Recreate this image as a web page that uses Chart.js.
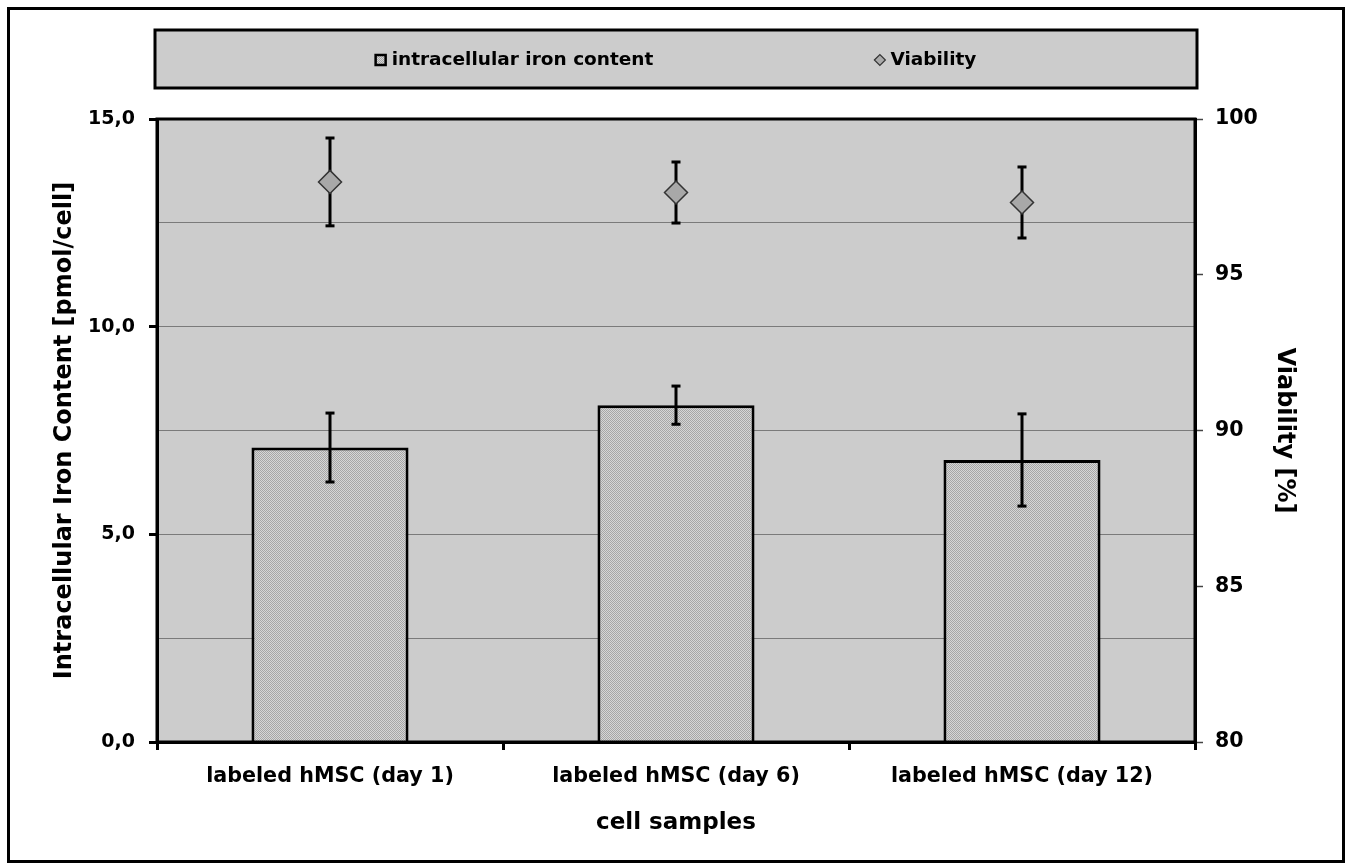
<!DOCTYPE html>
<html>
<head>
<meta charset="utf-8">
<script src="https://cdn.jsdelivr.net/npm/chart.js@4.4.1/dist/chart.umd.min.js"></script>
<style>
  html, body { margin: 0; padding: 0; background: #fff; }
  #wrap { width: 1350px; height: 865px; }
</style>
</head>
<body>
<div id="wrap"><canvas id="chart" width="1350" height="865"></canvas></div>
<script>
// data
const categories = ['labeled hMSC (day 1)', 'labeled hMSC (day 6)', 'labeled hMSC (day 12)'];
const ironContent = [7.09, 8.11, 6.79];
const ironError = [0.83, 0.46, 1.11];
const viability = [97.98, 97.64, 97.32];
const viabilityError = [1.41, 0.98, 1.14];

const FONT = 'DejaVu Sans, Verdana, sans-serif';

// dotted grey fill like the original bars
function makePattern(){
  const c = document.createElement('canvas');
  c.width = 2; c.height = 2;
  const g = c.getContext('2d');
  g.fillStyle = '#d6d6d6'; g.fillRect(0, 0, 2, 2);
  g.fillStyle = '#a6a6a6'; g.fillRect(0, 0, 1, 1); g.fillRect(1, 1, 1, 1);
  return g.createPattern(c, 'repeat');
}
const barFill = makePattern();

// frame, plot background, plot border
const framePlugin = {
  id: 'frame',
  beforeDraw(chart){
    const {ctx, chartArea: a} = chart;
    ctx.save();
    ctx.fillStyle = '#fff';
    ctx.fillRect(0, 0, chart.width, chart.height);
    ctx.fillStyle = '#cccccc';
    ctx.fillRect(a.left, a.top, a.right - a.left, a.bottom - a.top);
    ctx.strokeStyle = '#000';
    ctx.lineWidth = 3;
    ctx.strokeRect(8.5, 8.5, 1335, 853);
    ctx.restore();
  },
  afterDraw(chart){
    const {ctx, chartArea: a} = chart;
    ctx.save();
    ctx.strokeStyle = '#000';
    ctx.lineWidth = 3;
    ctx.strokeRect(a.left, a.top, a.right - a.left, a.bottom - a.top);
    ctx.restore();
  }
};

// error bars, drawn right after the bars so the diamonds sit on top
function drawErr(ctx, x, yTop, yBot){
  ctx.beginPath();
  ctx.moveTo(x, yTop); ctx.lineTo(x, yBot);
  ctx.stroke();
  ctx.fillRect(x - 4.5, yTop - 1.5, 9, 3);
  ctx.fillRect(x - 4.5, yBot - 1.5, 9, 3);
}
const errorPlugin = {
  id: 'errs',
  afterDatasetDraw(chart, args){
    if (args.index !== 0) return;
    const ctx = chart.ctx;
    const y = chart.scales.y, y1 = chart.scales.y1;
    const barMeta = chart.getDatasetMeta(0), ptMeta = chart.getDatasetMeta(1);
    ctx.save();
    ctx.strokeStyle = '#000';
    ctx.fillStyle = '#000';
    ctx.lineWidth = 3;
    ironContent.forEach((v, i) => {
      const x = barMeta.data[i].x;
      drawErr(ctx, x, y.getPixelForValue(v + ironError[i]), y.getPixelForValue(v - ironError[i]));
    });
    viability.forEach((v, i) => {
      const x = ptMeta.data[i].x;
      drawErr(ctx, x, y1.getPixelForValue(v + viabilityError[i]), y1.getPixelForValue(v - viabilityError[i]));
    });
    ctx.restore();
  }
};

// boxed legend above the plot
const legendBox = {
  id: 'legendBox',
  afterDraw(chart){
    const {ctx, chartArea: a} = chart;
    const ds = chart.data.datasets;
    const top = 30, bottom = 88, mid = (top + bottom) / 2 + 1;
    ctx.save();
    ctx.fillStyle = '#cccccc';
    ctx.fillRect(a.left - 2, top, a.right - a.left + 4, bottom - top);
    ctx.strokeStyle = '#000';
    ctx.lineWidth = 3;
    ctx.strokeRect(a.left - 2, top, a.right - a.left + 4, bottom - top);

    ctx.font = 'bold 18.5px ' + FONT;
    ctx.textBaseline = 'middle';
    const gap = 221, mark = 16;
    const w0 = ctx.measureText(ds[0].label).width, w1 = ctx.measureText(ds[1].label).width;
    const total = mark + w0 + gap + mark + w1;
    let x = (a.left + a.right) / 2 - total / 2;

    ctx.fillStyle = barFill;
    ctx.fillRect(x, mid - 5, 10, 10);
    ctx.lineWidth = 2.5;
    ctx.strokeRect(x, mid - 5, 10, 10);
    ctx.fillStyle = '#000';
    ctx.fillText(ds[0].label, x + mark, mid);
    x += mark + w0 + gap;

    ctx.beginPath();
    ctx.moveTo(x, mid); ctx.lineTo(x + 5.5, mid - 5.5); ctx.lineTo(x + 11, mid); ctx.lineTo(x + 5.5, mid + 5.5);
    ctx.closePath();
    ctx.fillStyle = '#aaaaaa'; ctx.fill();
    ctx.strokeStyle = '#333'; ctx.lineWidth = 1.2; ctx.stroke();
    ctx.fillStyle = '#000';
    ctx.fillText(ds[1].label, x + mark, mid);
    ctx.restore();
  }
};

const yTickFont = { family: FONT, size: 19, weight: 'bold' };
const y1TickFont = { family: FONT, size: 20.5, weight: 'bold' };
const xTickFont = { family: FONT, size: 20.7, weight: 'bold' };
const titleFont = { family: FONT, size: 24, weight: 'bold' };

new Chart(document.getElementById('chart'), {
  type: 'bar',
  data: {
    labels: categories,
    datasets: [
      {
        label: 'intracellular iron content',
        data: ironContent,
        yAxisID: 'y',
        backgroundColor: barFill,
        borderColor: '#000',
        borderWidth: 3,
        categoryPercentage: 1,
        barPercentage: 0.454,
        order: 2
      },
      {
        type: 'line',
        label: 'Viability',
        data: viability,
        yAxisID: 'y1',
        showLine: false,
        pointStyle: 'rectRot',
        pointRadius: 11.5,
        pointBackgroundColor: '#a8a8a8',
        pointBorderColor: '#333',
        pointBorderWidth: 1.5,
        order: 1
      }
    ]
  },
  options: {
    responsive: false,
    animation: false,
    layout: { padding: { top: 119, bottom: 0, left: 0, right: 0 } },
    plugins: { legend: { display: false }, tooltip: { enabled: false } },
    scales: {
      x: {
        grid: { drawOnChartArea: false, color: '#000', lineWidth: 3, tickLength: 8, offset: true },
        border: { color: '#000', width: 3 },
        ticks: { color: '#000', font: xTickFont, padding: 14, maxRotation: 0 },
        title: { display: true, text: 'cell samples', color: '#000', font: { family: FONT, size: 23, weight: 'bold' }, padding: { bottom: 28 } },
        afterFit(s){ s.height = 123; }
      },
      y: {
        position: 'left',
        min: 0, max: 15,
        ticks: {
          stepSize: 2.5, color: '#000', font: yTickFont, padding: 14,
          callback: v => (v % 5 === 0 ? v.toFixed(1).replace('.', ',') : '')
        },
        grid: {
          color: '#7a7a7a', lineWidth: 1, tickLength: 8, tickWidth: 3,
          tickColor: c => (c.tick && c.tick.value % 5 === 0 ? '#000' : 'rgba(0,0,0,0)')
        },
        border: { color: '#000', width: 3 },
        title: { display: true, text: 'Intracellular Iron Content [pmol/cell]', color: '#000', font: titleFont, padding: { top: 50 } },
        afterFit(s){ s.width = 157; }
      },
      y1: {
        position: 'right',
        min: 80, max: 100,
        ticks: { stepSize: 5, color: '#000', font: y1TickFont, padding: 12 },
        grid: { drawOnChartArea: false, tickLength: 8, tickColor: '#444', tickWidth: 1.5 },
        border: { color: '#000', width: 3 },
        title: { display: true, text: 'Viability [%]', color: '#000', font: titleFont, padding: { top: 51 } },
        afterFit(s){ s.width = 155; }
      }
    }
  },
  plugins: [framePlugin, errorPlugin, legendBox]
});
</script>
</body>
</html>
